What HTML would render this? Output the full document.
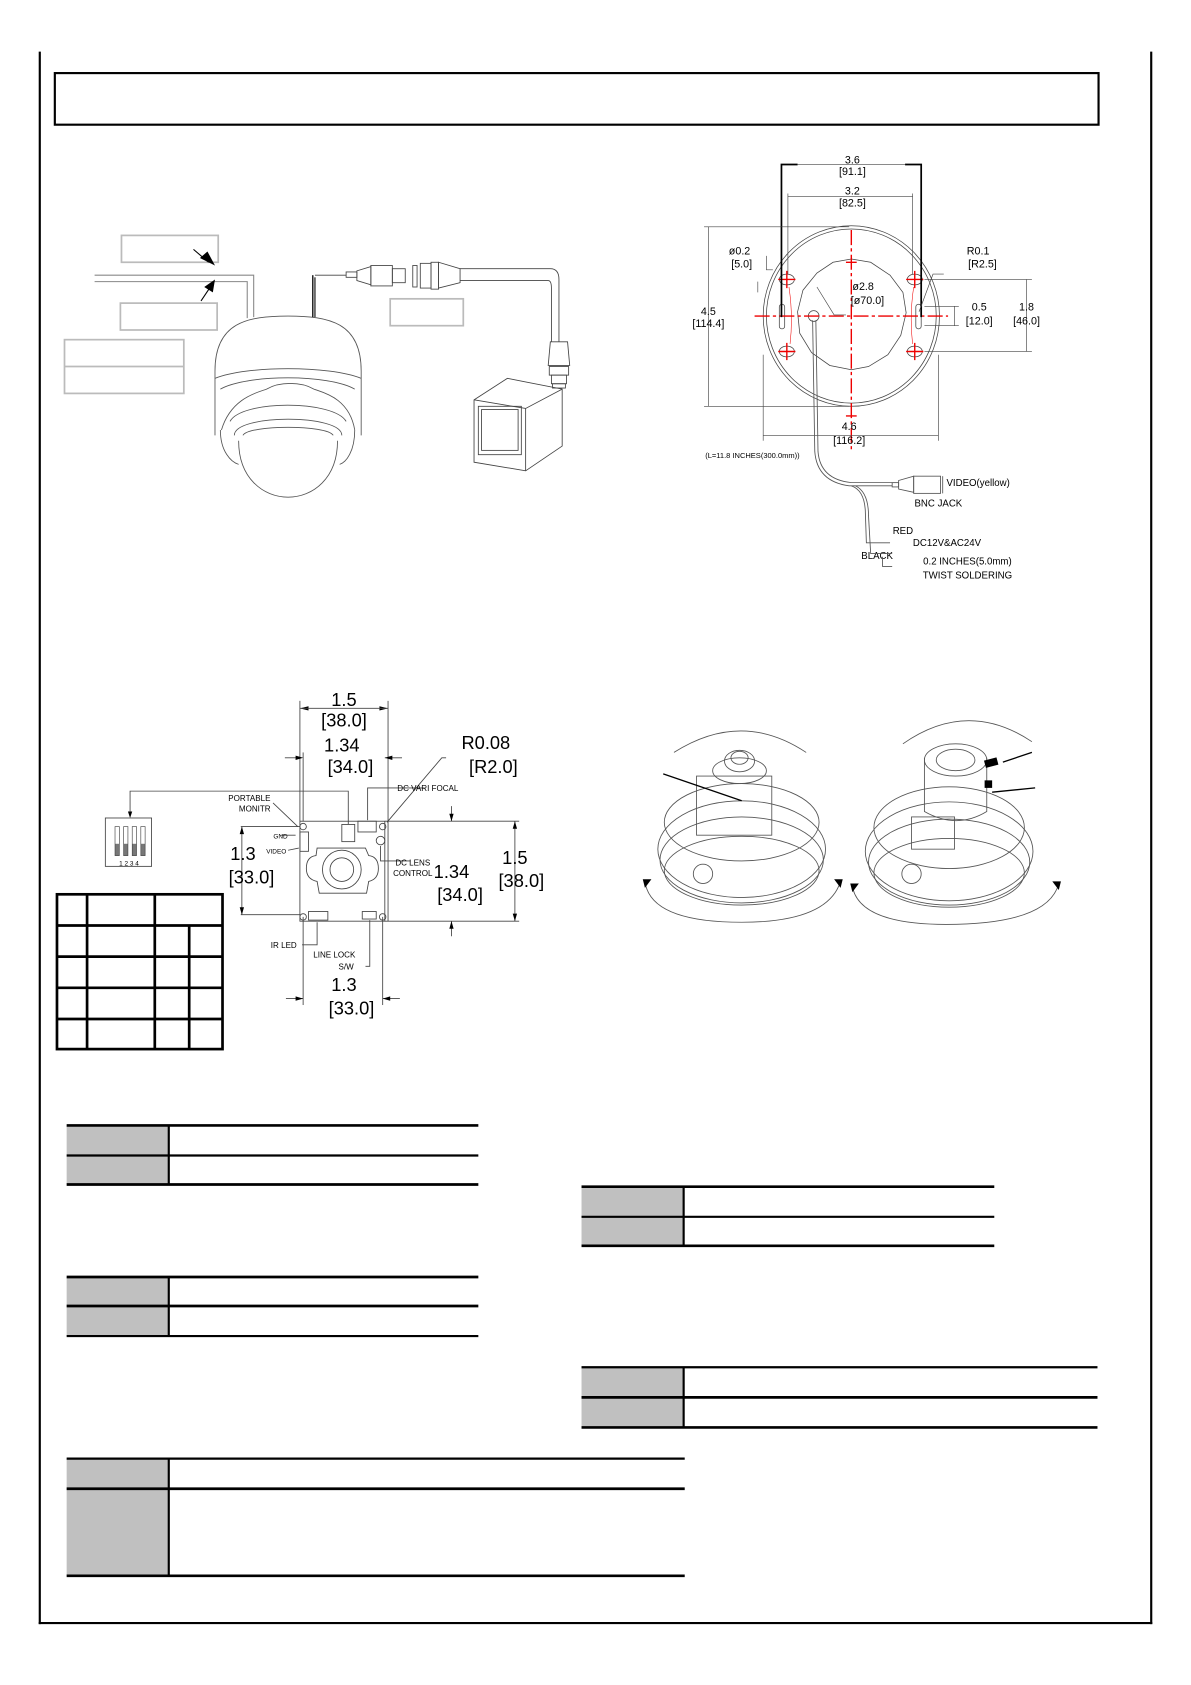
<!DOCTYPE html>
<html><head><meta charset="utf-8"><style>
html,body{margin:0;padding:0;background:#fff;}
svg{display:block;}
text{font-family:"Liberation Sans","DejaVu Sans",sans-serif;fill:#000;}
</style></head><body>
<svg width="1191" height="1685" viewBox="0 0 1108 1567.6" xmlns="http://www.w3.org/2000/svg">
<!-- page frame -->
<line x1="37" y1="48" x2="37" y2="1511" stroke="#000" stroke-width="2"/>
<line x1="1071" y1="48" x2="1071" y2="1511" stroke="#000" stroke-width="2"/>
<line x1="36" y1="1510" x2="1072" y2="1510" stroke="#000" stroke-width="2"/>
<rect x="51" y="68" width="971" height="48" fill="none" stroke="#000" stroke-width="2"/>

<!-- ===== top-left camera ===== -->
<g fill="none" stroke="#bbb" stroke-width="1.6">
<rect x="113" y="219" width="90" height="25"/>
<rect x="112" y="282" width="90" height="25"/>
<rect x="60" y="316" width="111" height="50"/>
<line x1="60" y1="341" x2="171" y2="341"/>
<rect x="363" y="278" width="68" height="25"/>
</g>
<g fill="none" stroke="#888" stroke-width="1">
<polyline points="88,256 236,256 236,295"/>
<polyline points="88,262 230,262 230,296"/>
</g>
<line x1="180" y1="232" x2="194" y2="244" stroke="#000" stroke-width="1"/>
<polygon points="200,247 186,240 193,234" fill="#000"/>
<line x1="187" y1="280" x2="195" y2="268" stroke="#000" stroke-width="1"/>
<polygon points="200,260 198,272 190,267" fill="#000"/>
<g fill="none" stroke="#555" stroke-width="0.8">
<path d="M200,405 L200,345 C200,300 230,294 268,294 C306,294 336,300 336,345 L336,405"/>
<path d="M200,352 C230,340 306,340 336,352"/>
<path d="M205,362 C230,348 306,348 330,362"/>
<path d="M206,400 C215,370 240,365 248,362 C260,355 280,355 292,362 C300,365 325,370 330,400"/>
<path d="M214,392 C225,372 310,372 322,392"/>
<path d="M218,405 C218,385 318,385 318,405"/>
<path d="M205,400 C205,420 215,430 222,432 M330,400 C330,420 322,430 316,432"/>
<path d="M222,410 C222,480 314,480 314,410"/>
<path d="M226,405 C232,395 304,395 310,405"/>
</g>
<line x1="291" y1="295" x2="291" y2="256" stroke="#000" stroke-width="1.2"/>
<line x1="293" y1="295" x2="293" y2="258" stroke="#000" stroke-width="1"/>
<g fill="none" stroke="#444" stroke-width="0.8">
<line x1="293" y1="256" x2="322" y2="256"/>
<rect x="322" y="253" width="10" height="5"/>
<path d="M332,252 L345,248 L345,265 L332,261 Z"/>
<rect x="345" y="247" width="20" height="19"/>
<rect x="365" y="250" width="12" height="13"/>
<rect x="384" y="247" width="4" height="20"/>
<rect x="391" y="245" width="10" height="23"/>
<rect x="401" y="244" width="7" height="25"/>
<path d="M408,244 L428,250 L428,263 L408,268 Z"/>
<path d="M428,250 L512,250 Q520,250 520,260 L520,318 M428,261 L510,261 Q513,261 513,268 L513,318"/>
<path d="M512,318 L528,318 L530,340 L510,340 Z"/>
<rect x="511" y="341" width="18" height="8"/>
<rect x="513" y="349" width="14" height="8"/>
<rect x="514" y="357" width="12" height="4"/>
<path d="M441,372 L472,352 L523,362 L523,415 L489,438 L441,430 Z"/>
<path d="M441,372 L489,380 L523,362 M489,380 L489,438"/>
<rect x="445" y="378" width="40" height="45"/>
<rect x="448" y="381" width="34" height="38"/>
</g>

<!-- ===== top-right dimension drawing ===== -->
<g fill="none" stroke="#444" stroke-width="0.7">
<ellipse cx="792" cy="294" rx="82" ry="84"/>
<ellipse cx="792" cy="294" rx="79" ry="81"/>
<polygon points="792,241 810,244 828,256 840,272 843,291 838,312 826,330 808,341 792,344 772,340 755,328 744,310 742,290 747,270 760,254 775,244"/>
<rect x="725" y="283" width="5" height="23" rx="2.5"/>
<rect x="852" y="283" width="5" height="23" rx="2.5"/>
<ellipse cx="732" cy="260" rx="7" ry="5"/>
<ellipse cx="851" cy="260" rx="7" ry="5"/>
<ellipse cx="732" cy="327" rx="7" ry="5"/>
<ellipse cx="851" cy="327" rx="7" ry="5"/>
<circle cx="757" cy="294" r="5"/>
</g>
<g stroke="#e00" stroke-width="1.3" fill="none">
<line x1="792" y1="214" x2="792" y2="420" stroke-dasharray="14,3,3,3"/>
<line x1="702" y1="294" x2="882" y2="294" stroke-dasharray="14,3,3,3"/>
<path d="M724,260h16M732,252v16M843,260h16M851,252v16M724,327h16M732,319v16M843,327h16M851,319v16M787,244h10M787,387h10"/>
<path d="M734,267 Q738,294 735,320 M850,267 Q846,294 849,320" stroke-width="0.5"/>
</g>
<g stroke="#000" stroke-width="1.6" fill="none">
<polyline points="727,295 727,153 742,153"/><polyline points="857,295 857,153 842,153"/>
</g>
<g stroke="#444" stroke-width="0.6" fill="none">
<line x1="742" y1="153" x2="842" y2="153"/>
<line x1="733" y1="183" x2="849" y2="183"/><line x1="733" y1="180" x2="733" y2="255"/><line x1="849" y1="180" x2="849" y2="255"/>
<line x1="659" y1="211" x2="659" y2="378"/><line x1="655" y1="211" x2="790" y2="211"/><line x1="655" y1="378" x2="790" y2="378"/>
<line x1="710" y1="405" x2="873" y2="405"/><line x1="710" y1="330" x2="710" y2="410"/><line x1="873" y1="330" x2="873" y2="410"/>
<line x1="955" y1="260" x2="955" y2="327"/><line x1="860" y1="260" x2="960" y2="260"/><line x1="860" y1="351" x2="960" y2="351" transform="translate(0,-24)"/>
<line x1="888" y1="285" x2="888" y2="303"/><line x1="860" y1="285" x2="892" y2="285"/><line x1="860" y1="303" x2="892" y2="303"/>
<polyline points="760,267 776,293 787,293"/>
<polyline points="855,290 868,255 878,255"/>
<polyline points="713,238 713,251 719,251"/>
<line x1="705" y1="262" x2="705" y2="272"/>
</g>
<g font-size="10" text-anchor="middle">
<text x="793" y="152">3.6</text><text x="793" y="163">[91.1]</text>
<text x="793" y="181">3.2</text><text x="793" y="192">[82.5]</text>
<text x="688" y="237">ø0.2</text><text x="690" y="249">[5.0]</text>
<text x="910" y="237">R0.1</text><text x="914" y="249">[R2.5]</text>
<text x="803" y="270">ø2.8</text><text x="807" y="283">[ø70.0]</text>
<text x="659" y="293">4.5</text><text x="659" y="304">[114.4]</text>
<text x="911" y="289">0.5</text><text x="911" y="302">[12.0]</text>
<text x="955" y="289">1.8</text><text x="955" y="302">[46.0]</text>
<text x="790" y="400">4.6</text><text x="790" y="413">[116.2]</text>
<text x="700" y="426" font-size="7">(L=11.8 INCHES(300.0mm))</text>
<text x="910" y="452" font-size="9">VIDEO(yellow)</text>
<text x="873" y="471" font-size="9">BNC  JACK</text>
<text x="840" y="497" font-size="9">RED</text>
<text x="881" y="508" font-size="9">DC12V&amp;AC24V</text>
<text x="816" y="520" font-size="9">BLACK</text>
<text x="900" y="525" font-size="9">0.2  INCHES(5.0mm)</text>
<text x="900" y="538" font-size="9">TWIST  SOLDERING</text>
</g>
<g stroke="#555" stroke-width="0.8" fill="none">
<path d="M756,298 L758,420 Q760,448 790,452 L830,452"/>
<path d="M759,298 L761,420 Q763,446 792,449 L830,449"/>
<path d="M792,452 Q804,456 805,475 L806,505 L828,505"/>
<path d="M796,452 Q808,458 808,480 L810,515 L830,515"/>
<rect x="830" y="449" width="6" height="4"/>
<path d="M836,447 L850,443 L850,458 L836,455 Z"/>
<rect x="850" y="443" width="25" height="16"/>
<line x1="877" y1="443" x2="877" y2="459"/>
<polyline points="821,518 821,527 830,527"/>
</g>

<!-- ===== PCB drawing ===== -->
<g stroke="#444" stroke-width="0.8" fill="none">
<rect x="279" y="764" width="79" height="93"/>
<line x1="279" y1="652" x2="279" y2="764"/><line x1="361" y1="652" x2="361" y2="857"/>
<line x1="265" y1="705" x2="279" y2="705"/><line x1="358" y1="705" x2="374" y2="705"/>
<line x1="282" y1="700" x2="282" y2="764"/>
<line x1="224" y1="769" x2="279" y2="769"/><line x1="224" y1="851" x2="279" y2="851"/>
<line x1="225" y1="769" x2="225" y2="851"/>
<line x1="358" y1="764" x2="483" y2="764"/><line x1="358" y1="857" x2="483" y2="857"/>
<line x1="479" y1="764" x2="479" y2="857"/>
<line x1="420" y1="750" x2="420" y2="764"/><line x1="420" y1="857" x2="420" y2="871"/>
<line x1="282" y1="853" x2="282" y2="935"/><line x1="356" y1="853" x2="356" y2="935"/>
<line x1="266" y1="929" x2="282" y2="929"/><line x1="356" y1="929" x2="372" y2="929"/>
<polyline points="415,705 411,705 360,765"/>
<polyline points="395,733 342,733 342,763"/>
<polyline points="324,767 324,736 121,736 121,756"/>
<polyline points="254,747 277,769"/>
<polyline points="261,777 275,777"/><polyline points="268,791 278,789"/>
<polyline points="354,787 354,801 382,801"/>
<polyline points="281,879 295,879 295,858"/>
<polyline points="340,899 344,899 344,856"/>
<rect x="98" y="761" width="43" height="45"/>
<rect x="279" y="774" width="8" height="18"/>
<rect x="318" y="767" width="12" height="16"/>
<rect x="333" y="764" width="17" height="10"/>
<rect x="287" y="848" width="18" height="8"/>
<rect x="337" y="848" width="13" height="7"/>
<circle cx="282" cy="769" r="3"/><circle cx="356" cy="769" r="3"/>
<circle cx="282" cy="853" r="3"/><circle cx="356" cy="853" r="3"/>
<circle cx="354" cy="782" r="4"/>
<path d="M295,789 L340,789 L343,796 Q352,797 352,808 Q352,818 343,820 L341,831 L297,831 L295,820 Q285,818 285,808 Q285,797 294,796 Z"/>
<circle cx="318" cy="809" r="18"/>
<circle cx="318" cy="809" r="11" fill="#fff"/>
</g>
<g fill="#000">
<polygon points="279,659 287,657 287,661"/><polygon points="361,659 353,657 353,661"/>
<line x1="279" y1="659" x2="361" y2="659" stroke="#444" stroke-width="0.8"/>
<polygon points="282,705 275,703 275,707"/><polygon points="358,705 365,703 365,707"/>
<polygon points="225,769 223,776 227,776"/><polygon points="225,851 223,844 227,844"/>
<polygon points="479,764 477,771 481,771"/><polygon points="479,857 477,850 481,850"/>
<polygon points="420,764 418,757 422,757"/><polygon points="420,857 418,864 422,864"/>
<polygon points="282,929 275,927 275,931"/><polygon points="356,929 363,927 363,931"/>
<polygon points="121,761 119,755 123,755"/>
<rect x="107" y="785" width="4" height="11" fill="#777"/><rect x="115" y="785" width="4" height="11" fill="#777"/>
<rect x="123" y="785" width="4" height="11" fill="#777"/><rect x="131" y="785" width="4" height="11" fill="#777"/>
</g>
<g stroke="#444" stroke-width="0.6" fill="none">
<rect x="107" y="769" width="4" height="27"/><rect x="115" y="769" width="4" height="27"/>
<rect x="123" y="769" width="4" height="27"/><rect x="131" y="769" width="4" height="27"/>
</g>
<g font-size="17" text-anchor="middle">
<text x="320" y="657">1.5</text><text x="320" y="676">[38.0]</text>
<text x="318" y="699">1.34</text><text x="326" y="719">[34.0]</text>
<text x="452" y="697">R0.08</text><text x="459" y="719">[R2.0]</text>
<text x="226" y="800">1.3</text><text x="234" y="822">[33.0]</text>
<text x="420" y="817">1.34</text><text x="428" y="838">[34.0]</text>
<text x="479" y="804">1.5</text><text x="485" y="825">[38.0]</text>
<text x="320" y="922">1.3</text><text x="327" y="944">[33.0]</text>
</g>
<g font-size="7.5" text-anchor="middle">
<text x="232" y="745">PORTABLE</text><text x="237" y="755">MONITR</text>
<text x="398" y="736">DC VARI FOCAL</text>
<text x="261" y="780" font-size="6">GND</text><text x="257" y="794" font-size="6">VIDEO</text>
<text x="384" y="805">DC LENS</text><text x="384" y="815">CONTROL</text>
<text x="264" y="882">IR LED</text>
<text x="311" y="891">LINE LOCK</text><text x="322" y="902">S/W</text>
<text x="120" y="805" font-size="6">1 2 3 4</text>
</g>
<g stroke="#000" stroke-width="2.5" fill="none">
<rect x="53" y="832" width="154" height="144"/>
<line x1="53" y1="861" x2="207" y2="861"/><line x1="53" y1="890" x2="207" y2="890"/>
<line x1="53" y1="919" x2="207" y2="919"/><line x1="53" y1="948" x2="207" y2="948"/>
<line x1="81" y1="832" x2="81" y2="976"/><line x1="144" y1="832" x2="144" y2="976"/>
<line x1="176" y1="861" x2="176" y2="976"/>
</g>

<!-- ===== photos ===== -->
<g stroke="#555" stroke-width="0.8" fill="none">
<path d="M627,700 Q690,660 750,700"/>
<path d="M600,820 Q605,858 690,858 Q770,858 782,820"/>
<path d="M840,692 Q900,650 960,690"/>
<path d="M793,825 Q800,860 880,860 Q975,860 985,822"/>
<ellipse cx="690" cy="790" rx="78" ry="45"/>
<ellipse cx="690" cy="800" rx="76" ry="40"/>
<ellipse cx="690" cy="810" rx="72" ry="32"/>
<ellipse cx="690" cy="765" rx="72" ry="36"/>
<rect x="648" y="722" width="70" height="55"/>
<ellipse cx="688" cy="717" rx="25" ry="12"/>
<ellipse cx="688" cy="708" rx="14" ry="10"/>
<ellipse cx="688" cy="705" rx="8" ry="6"/>
<ellipse cx="883" cy="792" rx="78" ry="46"/>
<ellipse cx="883" cy="802" rx="75" ry="40"/>
<ellipse cx="883" cy="812" rx="70" ry="32"/>
<ellipse cx="883" cy="770" rx="70" ry="38"/>
<path d="M860,705 L860,755 Q890,772 918,755 L918,705"/>
<ellipse cx="889" cy="707" rx="29" ry="15"/>
<ellipse cx="889" cy="707" rx="18" ry="10"/>
<rect x="848" y="760" width="40" height="30"/>
<circle cx="654" cy="813" r="9"/>
<circle cx="848" cy="813" r="9"/>
</g>
<g fill="#000">
<polygon points="600,826 598,818 606,818"/><polygon points="782,826 776,818 784,818"/>
<polygon points="793,830 791,822 799,822"/><polygon points="985,828 979,820 987,820"/>
<rect x="916" y="706" width="12" height="7" transform="rotate(-15 922 709)"/>
<rect x="916" y="726" width="7" height="7"/>
</g>
<g stroke="#000" stroke-width="1.2">
<line x1="617" y1="720" x2="690" y2="745"/>
<line x1="933" y1="709" x2="960" y2="700"/>
<line x1="923" y1="737" x2="963" y2="733"/>
</g>

<!-- ===== tables ===== -->
<g fill="#c0c0c0">
<rect x="62" y="1047" width="95" height="55"/>
<rect x="541" y="1104" width="95" height="55"/>
<rect x="62" y="1188" width="95" height="55"/>
<rect x="541" y="1272" width="95" height="55"/>
<rect x="62" y="1357" width="95" height="109"/>
</g>
<g stroke="#000">
<line x1="62" y1="1047" x2="445" y2="1047" stroke-width="2.5"/>
<line x1="62" y1="1075" x2="445" y2="1075" stroke-width="2"/>
<line x1="62" y1="1102" x2="445" y2="1102" stroke-width="2.5"/>
<line x1="157" y1="1047" x2="157" y2="1102" stroke-width="2"/>

<line x1="541" y1="1104" x2="925" y2="1104" stroke-width="2.5"/>
<line x1="541" y1="1132" x2="925" y2="1132" stroke-width="2"/>
<line x1="541" y1="1159" x2="925" y2="1159" stroke-width="2.5"/>
<line x1="636" y1="1104" x2="636" y2="1159" stroke-width="2"/>

<line x1="62" y1="1188" x2="445" y2="1188" stroke-width="2.5"/>
<line x1="62" y1="1215" x2="445" y2="1215" stroke-width="2.5"/>
<line x1="62" y1="1243" x2="445" y2="1243" stroke-width="2"/>
<line x1="157" y1="1188" x2="157" y2="1243" stroke-width="2"/>

<line x1="541" y1="1272" x2="1021" y2="1272" stroke-width="2"/>
<line x1="541" y1="1300" x2="1021" y2="1300" stroke-width="2.5"/>
<line x1="541" y1="1328" x2="1021" y2="1328" stroke-width="2.5"/>
<line x1="636" y1="1272" x2="636" y2="1328" stroke-width="2"/>

<line x1="62" y1="1357" x2="637" y2="1357" stroke-width="2"/>
<line x1="62" y1="1385" x2="637" y2="1385" stroke-width="2.5"/>
<line x1="62" y1="1466" x2="637" y2="1466" stroke-width="2.5"/>
<line x1="157" y1="1357" x2="157" y2="1466" stroke-width="2"/>
</g>
</svg>
</body></html>
